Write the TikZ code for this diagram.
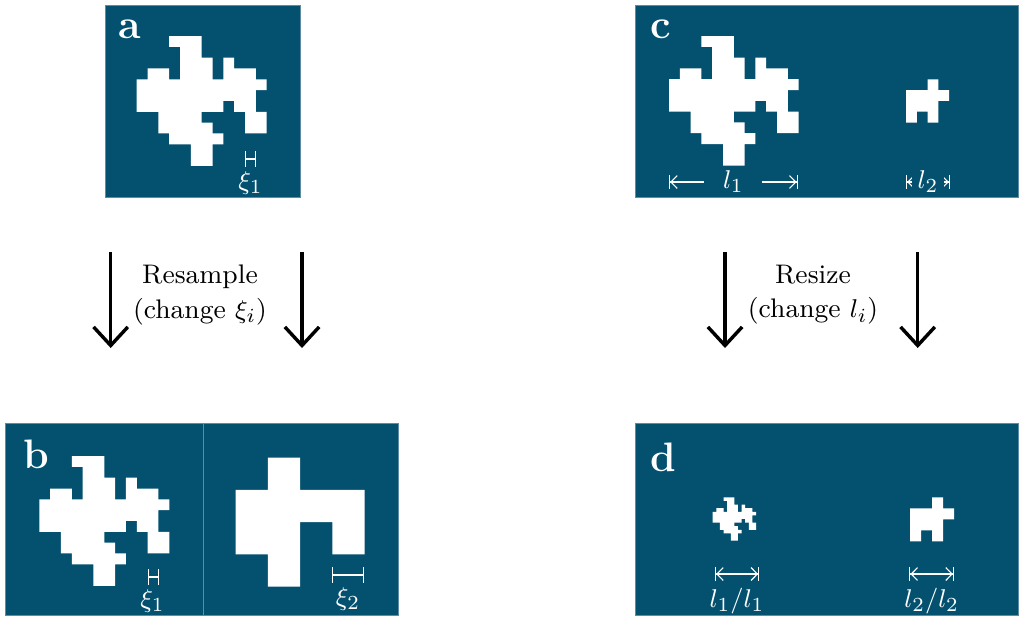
\documentclass[tikz,border=0pt]{standalone}
\usetikzlibrary{arrows.meta}

\definecolor{panelblue}{RGB}{3,81,111}
\definecolor{paneledge}{RGB}{95,140,165}

\def\fineshape{0/{3,4,5},1/{4,5},2/{4,5,6,8},3/{1,2,4,5,6,8,9,10},4/{0,1,2,3,4,5,6,7,8,9,10,11},5/{0,1,2,3,4,5,6,7,8,9,10},6/{0,1,2,3,4,5,6,7,9,10},7/{2,3,4,5,10,11},8/{2,3,4,5,6,10,11},9/{3,4,5,6,7},10/{5,6},11/{5,6}}
\def\coarseshape{0/{1},1/{0,1,2,3},2/{0,1,3},3/{1}}
\def\smallshape{0/{2},1/{0,1,2,3},2/{0,1,2},3/{0,2}}

\newcommand{\cellblob}[4]{%
	\fill[white] \foreach \row/\cols in #4 {\foreach \col in \cols {(#1+\col*#3,#2+\row*#3) rectangle ++(#3,#3)}};%
}

\begin{document}
\begin{tikzpicture}[
	x=0.35pt,
	y=-0.35pt,
	panel/.style={
		fill=panelblue,
		draw=paneledge,
		line width=0.3pt
	},
	tag/.style={
		text=white,
		font=\Large\bfseries,
		anchor=base west,
		inner sep=0pt
	},
	lbl/.style={
		text=white,
		font=\fontsize{9.4}{12}\selectfont,
		inner sep=1pt
	},
	dimlabel/.style={
		text=white,
		fill=panelblue,
		font=\fontsize{9.4}{12}\selectfont,
		inner ysep=1pt,
		inner xsep=2pt
	},
	scalebar/.style={
		white,
		line width=0.4pt,
		{Bar[width=5.5pt]}-{Bar[width=5.5pt]}
	},
	dimline/.style={
		white,
		line width=0.4pt,
		{Bar[width=5pt]Straight Barb[length=2.2pt,width=4.5pt]}-{Straight Barb[length=2.2pt,width=4.5pt]Bar[width=5pt]}
	},
	bigarrow/.style={
		line width=1.2pt,
		-{Straight Barb[length=6.5pt,width=12pt]}
	},
	steplabel/.style={
		align=center,
		font=\fontsize{9.4}{12}\selectfont
	},
]

\useasboundingbox (0,0) rectangle (1020,617);

\path[panel] (105,5) rectangle (300,197);
\path[panel] (5,423) rectangle (398,615);
\path[panel] (635,5) rectangle (1018,197);
\path[panel] (635,423) rectangle (1018,615);
\draw[paneledge, line width=0.5pt] (203.3,423) -- (203.3,615);

\node[tag] (tag_a) at (118,38) {a};
\node[tag] (tag_b) at (23,468) {b};
\node[tag] (tag_c) at (650,38) {c};
\node[tag] (tag_d) at (650,471) {d};

\cellblob{136.7}{36}{10.83}{\fineshape}
\cellblob{39.3}{456}{10.83}{\fineshape}
\cellblob{235.7}{457.7}{32.2}{\coarseshape}
\cellblob{669}{36}{10.8}{\fineshape}
\cellblob{906}{79.3}{10.8}{\smallshape}
\cellblob{712.7}{497.3}{3.61}{\fineshape}
\cellblob{910}{497.3}{11}{\smallshape}

\coordinate (bar_a_l) at (245,159);
\coordinate (bar_a_r) at (255.8,159);
\coordinate (bar_b1_l) at (148.3,577);
\coordinate (bar_b1_r) at (159.2,577);
\coordinate (bar_b2_l) at (332.3,575);
\coordinate (bar_b2_r) at (364.3,575);
\coordinate (dim_c1_l) at (669,182);
\coordinate (dim_c1_r) at (797.7,182);
\coordinate (dim_c2_l) at (906,182);
\coordinate (dim_c2_r) at (950,182);
\coordinate (dim_d1_l) at (715,574);
\coordinate (dim_d1_r) at (759.3,574);
\coordinate (dim_d2_l) at (909.3,574);
\coordinate (dim_d2_r) at (954,574);

\draw[scalebar] (bar_a_l) -- (bar_a_r);
\draw[scalebar] (bar_b1_l) -- (bar_b1_r);
\draw[scalebar] (bar_b2_l) -- (bar_b2_r);
\node[lbl] (xi_a) at (250.5,183) {$\xi_1$};
\node[lbl] (xi_b1) at (152.5,601) {$\xi_1$};
\node[lbl] (xi_b2) at (348,599) {$\xi_2$};

\draw[dimline] (dim_c1_l) -- (dim_c1_r) node[dimlabel, inner xsep=6.5pt, midway] (len_c1) {$l_1$};
\draw[dimline] (dim_c2_l) -- (dim_c2_r) node[dimlabel, midway] (len_c2) {$l_2$};
\draw[dimline] (dim_d1_l) -- (dim_d1_r);
\draw[dimline] (dim_d2_l) -- (dim_d2_r);
\node[lbl] (len_d1) at (737,601) {$l_1/l_1$};
\node[lbl] (len_d2) at (931.7,601) {$l_2/l_2$};

\coordinate (rs_l_top) at (110.7,252);
\coordinate (rs_l_bot) at (110.7,348);
\coordinate (rs_r_top) at (302,252);
\coordinate (rs_r_bot) at (302,348);
\coordinate (rz_l_top) at (725,252);
\coordinate (rz_l_bot) at (725,348);
\coordinate (rz_r_top) at (917.7,252);
\coordinate (rz_r_bot) at (917.7,348);

\draw[bigarrow] (rs_l_top) -- (rs_l_bot);
\draw[bigarrow] (rs_r_top) -- (rs_r_bot);
\draw[bigarrow] (rz_l_top) -- (rz_l_bot);
\draw[bigarrow] (rz_r_top) -- (rz_r_bot);

\node[steplabel] (resample) at (200,295) {Resample\\(change $\xi_i$)};
\node[steplabel] (resize) at (813,295) {Resize\\(change $l_i$)};

\end{tikzpicture}
\end{document}
